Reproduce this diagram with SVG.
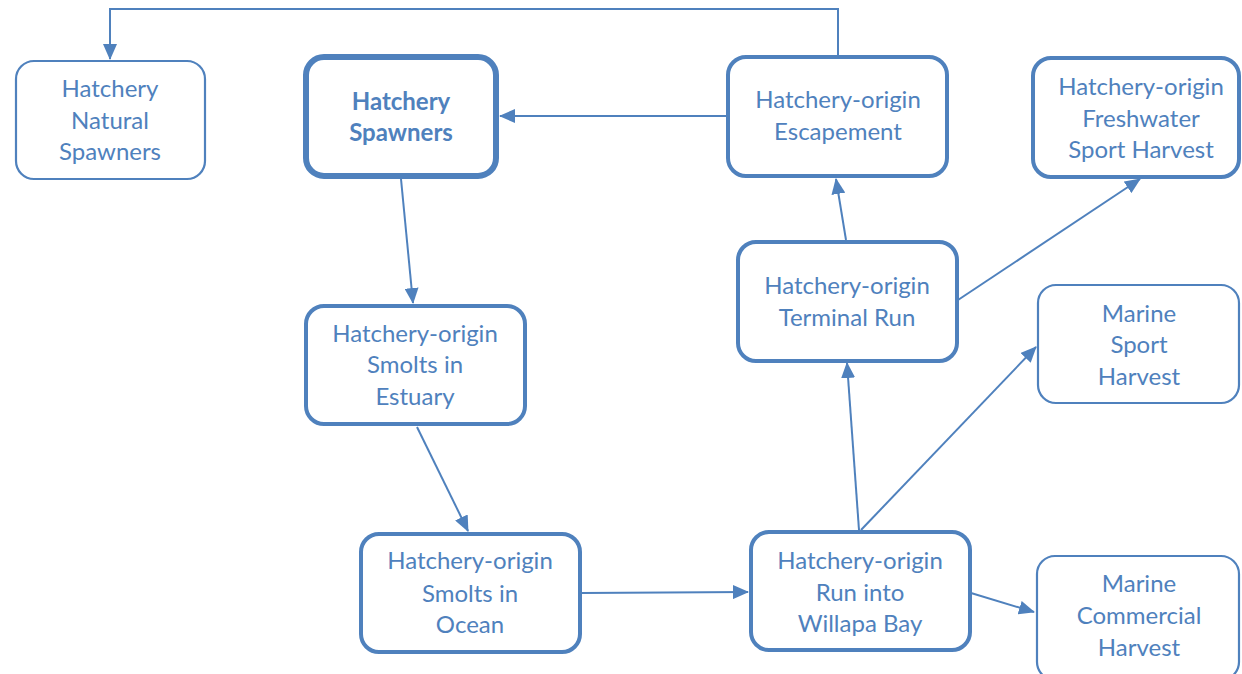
<svg xmlns="http://www.w3.org/2000/svg" width="1242" height="674" viewBox="0 0 1242 674">
  <style>
    .box { fill: #ffffff; stroke: #4F81BD; }
    .thin { stroke-width: 2.2; }
    .mid { stroke-width: 4; }
    .thick { stroke-width: 6; }
    .lbl { font-family: Lato, "Open Sans", sans-serif; font-size: 24px; fill: #4F81BD; text-anchor: middle; }
    .bold { font-weight: bold; }
    .link { fill: none; stroke: #4F81BD; stroke-width: 2; marker-end: url(#arrow); }
  </style>
  <defs>
    <marker id="arrow" markerUnits="userSpaceOnUse" markerWidth="16" markerHeight="14" viewBox="0 0 16 14" refX="15" refY="7" orient="auto">
      <path d="M0,0 L16,7 L0,14 Z" fill="#4F81BD"/>
    </marker>
  </defs>
  <rect width="1242" height="674" fill="#ffffff"/>

  <g id="connectors">
    <path class="link" d="M838,55 V9 H110 V59"/>
    <path class="link" d="M727,116 H500"/>
    <path class="link" d="M401,179 L413,303"/>
    <path class="link" d="M417,427 L468,531"/>
    <path class="link" d="M582,593 L748,592"/>
    <path class="link" d="M859,530 L847,363"/>
    <path class="link" d="M861,530 L1036,347"/>
    <path class="link" d="M971,593 L1034,612"/>
    <path class="link" d="M846,240 L836,179"/>
    <path class="link" d="M958,300 L1140,179"/>
  </g>

  <g id="hatchery-natural-spawners">
    <rect class="box thin" x="16" y="61" width="189" height="118" rx="18"/>
    <text class="lbl" x="110" y="97">Hatchery</text>
    <text class="lbl" x="110" y="129">Natural</text>
    <text class="lbl" x="110" y="160">Spawners</text>
  </g>

  <g id="hatchery-spawners">
    <rect class="box thick" x="306" y="57" width="190" height="119" rx="18"/>
    <text class="lbl bold" x="401" y="110">Hatchery</text>
    <text class="lbl bold" x="401" y="141">Spawners</text>
  </g>

  <g id="escapement">
    <rect class="box mid" x="728" y="57" width="219" height="119" rx="18"/>
    <text class="lbl" x="838" y="108">Hatchery-origin</text>
    <text class="lbl" x="838" y="140">Escapement</text>
  </g>

  <g id="freshwater-sport-harvest">
    <rect class="box mid" x="1033" y="58" width="206" height="119" rx="18"/>
    <text class="lbl" x="1141" y="95">Hatchery-origin</text>
    <text class="lbl" x="1141" y="127">Freshwater</text>
    <text class="lbl" x="1141" y="158">Sport Harvest</text>
  </g>

  <g id="terminal-run">
    <rect class="box mid" x="738" y="242" width="219" height="119" rx="18"/>
    <text class="lbl" x="847" y="294">Hatchery-origin</text>
    <text class="lbl" x="847" y="326">Terminal Run</text>
  </g>

  <g id="marine-sport-harvest">
    <rect class="box thin" x="1038" y="285" width="201" height="118" rx="18"/>
    <text class="lbl" x="1139" y="322">Marine</text>
    <text class="lbl" x="1139" y="353">Sport</text>
    <text class="lbl" x="1139" y="385">Harvest</text>
  </g>

  <g id="smolts-estuary">
    <rect class="box mid" x="306" y="306" width="219" height="118" rx="18"/>
    <text class="lbl" x="415" y="342">Hatchery-origin</text>
    <text class="lbl" x="415" y="373">Smolts in</text>
    <text class="lbl" x="415" y="405">Estuary</text>
  </g>

  <g id="smolts-ocean">
    <rect class="box mid" x="361" y="534" width="219" height="118" rx="18"/>
    <text class="lbl" x="470" y="569">Hatchery-origin</text>
    <text class="lbl" x="470" y="602">Smolts in</text>
    <text class="lbl" x="470" y="633">Ocean</text>
  </g>

  <g id="willapa-bay">
    <rect class="box mid" x="751" y="532" width="219" height="118" rx="18"/>
    <text class="lbl" x="860" y="569">Hatchery-origin</text>
    <text class="lbl" x="860" y="601">Run into</text>
    <text class="lbl" x="860" y="632">Willapa Bay</text>
  </g>

  <g id="marine-commercial-harvest">
    <rect class="box thin" x="1037" y="556" width="202" height="124" rx="18"/>
    <text class="lbl" x="1139" y="592">Marine</text>
    <text class="lbl" x="1139" y="624">Commercial</text>
    <text class="lbl" x="1139" y="656">Harvest</text>
  </g>
</svg>
